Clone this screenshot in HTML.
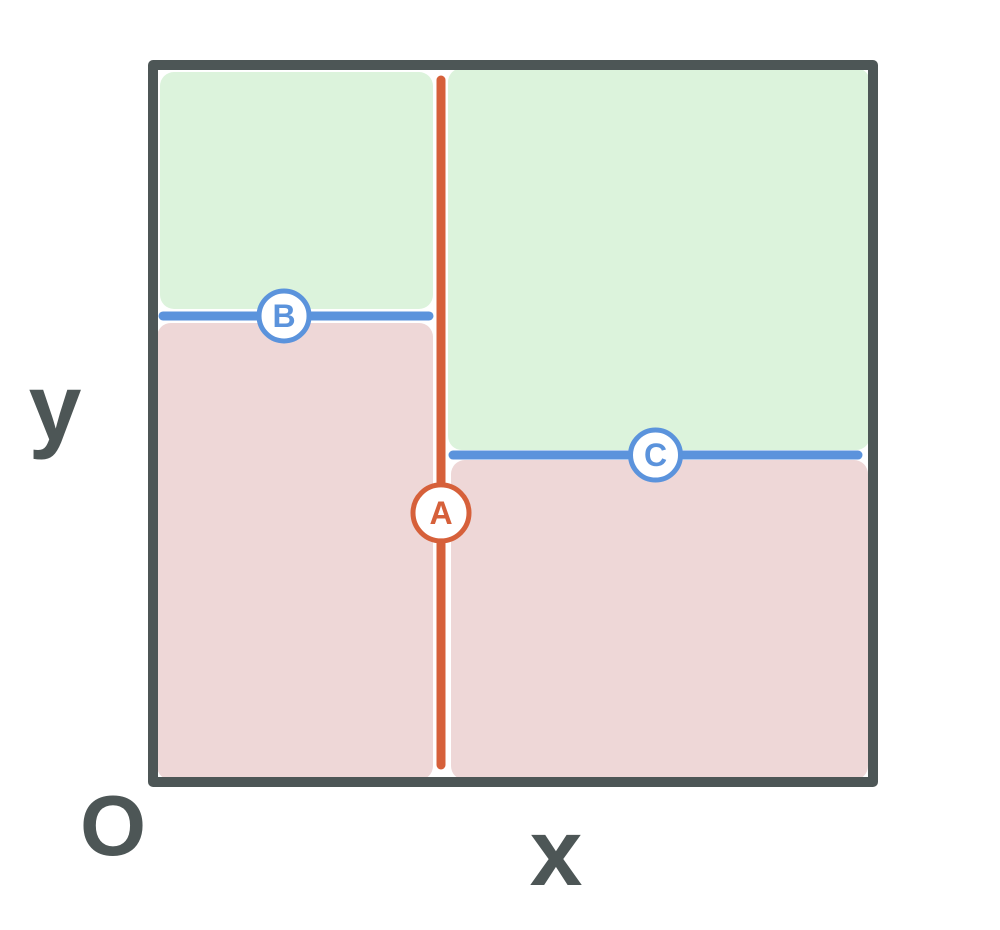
<!DOCTYPE html>
<html><head><meta charset="utf-8"><style>
body{margin:0;background:#fff;}
svg{display:block;}
text{font-family:"Liberation Sans",sans-serif;font-weight:bold;}
</style></head><body>
<svg width="1000" height="930" viewBox="0 0 1000 930">
<g id="regions"></g>
<g id="splits"></g>
<rect x="153" y="65" width="720" height="717" fill="none" stroke="#4d5656" stroke-width="10" stroke-linejoin="round"/>
<g id="nodes"></g>
<text x="55" y="440" font-size="95" fill="#4d5656" text-anchor="middle">y</text>
<text x="556" y="885" font-size="95" fill="#4d5656" text-anchor="middle">x</text>
<text x="113" y="855" font-size="85" fill="#4d5656" text-anchor="middle">O</text>
</svg>
<script>
// data (domain 0..1 on both axes)
const splitA = [0.4];            // vertical split x
const splitB = [0.65];           // horizontal split y (left of A)
const splitC = [0.456];          // horizontal split y (right of A)
const nodeLabels = ['A','B','C'];
const nodePos = [0.632, 0.455, 0.5]; // position along each split line (fraction)

const X0=153,X1=873,Y0=782,Y1=65;
const sx=v=>X0+v*(X1-X0), sy=v=>Y0-v*(Y0-Y1);
const NS='http://www.w3.org/2000/svg';
function mk(tag,attrs,parent){const e=document.createElementNS(NS,tag);for(const k in attrs)e.setAttribute(k,attrs[k]);parent.appendChild(e);return e;}
const G=document.getElementById('regions'),S=document.getElementById('splits'),N=document.getElementById('nodes');
const green='#dcf3dc',pink='#eed7d7';
const ax=sx(splitA[0]),by=sy(splitB[0]),cy=sy(splitC[0]);
function region(x1,y1,x2,y2,fill,name){
  const r=mk('rect',{x:x1,y:y1,width:x2-x1,height:y2-y1,rx:14,fill:fill},G);
  
  
}
region(X0+7,Y1+7,ax-8,by-7,green,'region-top-left');
region(X0+4,by+7,ax-8,Y0-2,pink,'region-bottom-left');
region(ax+7,Y1+3,X1-3,cy-5,green,'region-top-right');
region(ax+10,cy+5,X1-5,Y0-2,pink,'region-bottom-right');
function line(x1,y1,x2,y2,col,name){
  const l=mk('line',{x1:x1,y1:y1,x2:x2,y2:y2,stroke:col,'stroke-width':9,'stroke-linecap':'round'},S);
  
  
}
const red='#d6603a',blue='#5b93dc';
line(ax,Y1+15,ax,Y0-17,red,'split-a-line');
line(X0+10,by,ax-12,by,blue,'split-b-line');
line(ax+12,cy,X1-15,cy,blue,'split-c-line');
const nodes=[
 [ax, Y1+15+nodePos[0]*(Y0-Y1-32), red],
 [X0+10+nodePos[1]*(ax-X0-22), by, blue],
 [ax+12+nodePos[2]*(X1-ax-27), cy, blue]];
nodes.forEach((n,i)=>{
  const g=mk('g',{},N);
  
  
  mk('circle',{cx:n[0],cy:n[1],r:i===0?28:25,fill:'#fff',stroke:n[2],'stroke-width':5},g);
  const t=mk('text',{x:n[0],y:n[1]+11,'font-size':32,fill:n[2],'text-anchor':'middle'},g);
  t.textContent=nodeLabels[i];
});
</script>
</body></html>
